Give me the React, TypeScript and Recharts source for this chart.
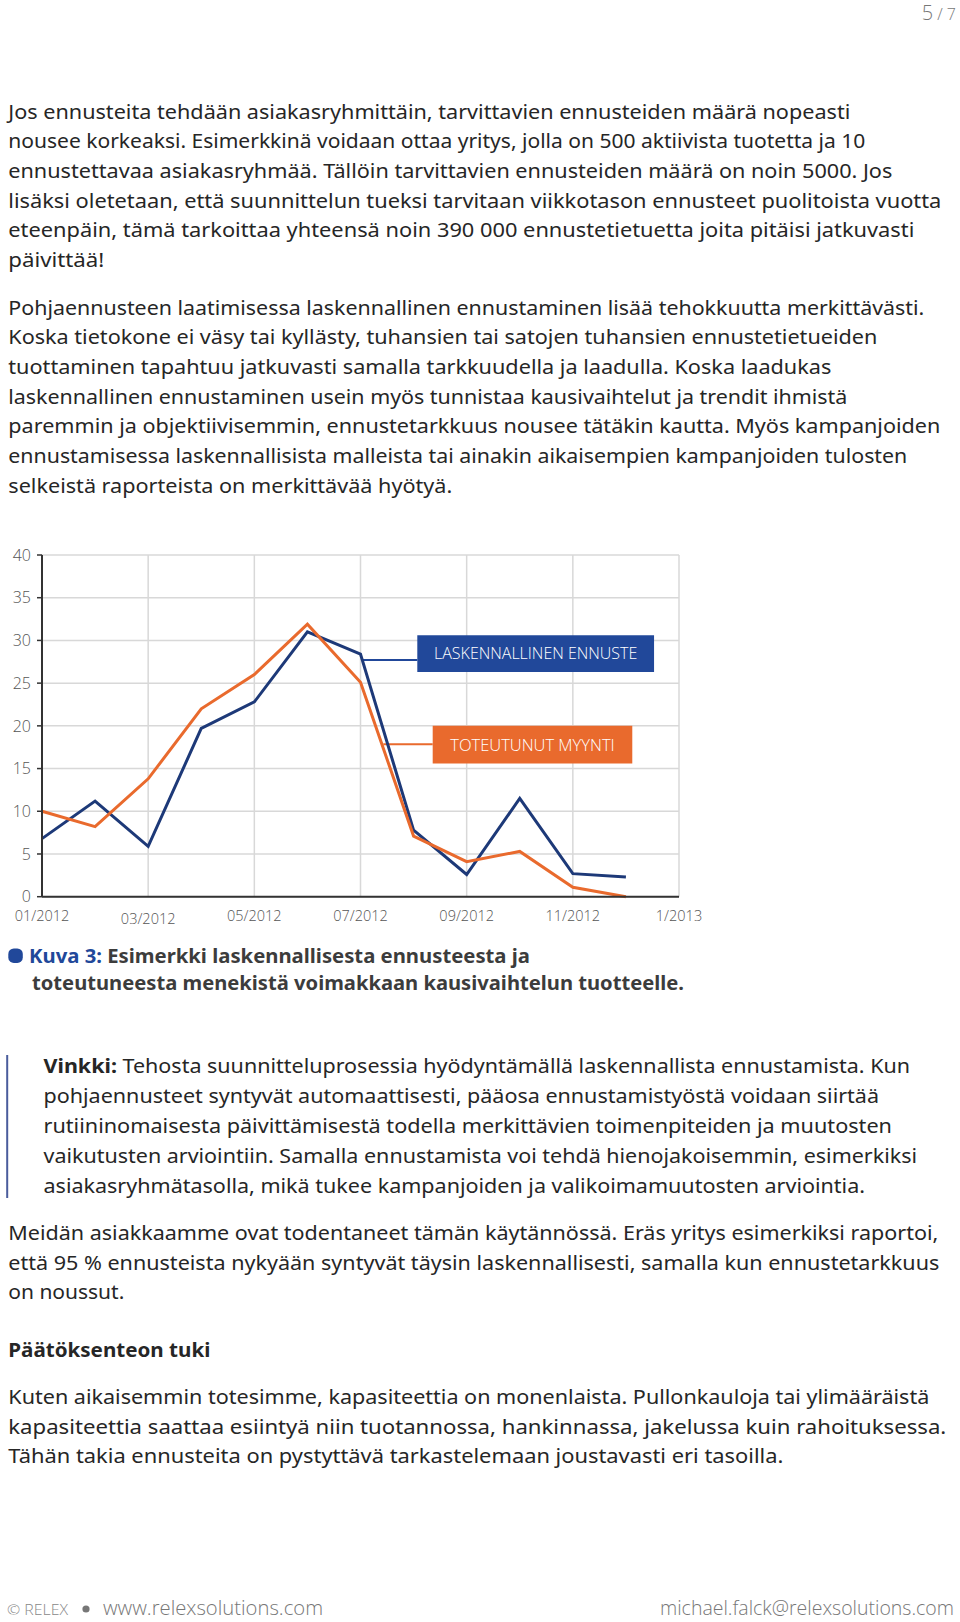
import React from 'react';
import { LineChart, Line, XAxis, YAxis, CartesianGrid, ReferenceArea, ReferenceLine, Label } from 'recharts';

// ---- chart data ----
const months = ['01/2012', '02/2012', '03/2012', '04/2012', '05/2012', '06/2012', '07/2012', '08/2012', '09/2012', '10/2012', '11/2012', '12/2012'];
const forecast = [6.8, 11.2, 5.9, 19.7, 22.8, 31.0, 28.4, 7.8, 2.6, 11.5, 2.7, 2.3];
const actual = [10.0, 8.2, 13.8, 22.0, 26.0, 31.9, 25.1, 7.1, 4.1, 5.3, 1.1, 0];
const xTickValues = [0, 2, 4, 6, 8, 10, 12];
const xTickLabels = ['01/2012', '03/2012', '05/2012', '07/2012', '09/2012', '11/2012', '1/2013'];
const yTicks = [0, 5, 10, 15, 20, 25, 30, 35, 40];
const seriesNames = ['LASKENNALLINEN ENNUSTE', 'TOTEUTUNUT MYYNTI'];

const data = months.map((m, i) => ({ idx: i, month: m, forecast: forecast[i], actual: actual[i] }));

const BLUE_LINE = '#1d3978';
const BLUE_BOX = '#21489a';
const ORANGE = '#e96a2d';
const BODY = '"Noto Sans", "Open Sans", sans-serif';
const LIGHT = '"Open Sans", "Noto Sans", sans-serif';

const XTick = (props: any) => {
  const { x, y, payload } = props;
  const i = xTickValues.indexOf(payload.value);
  const extra = i === 1 ? 3.5 : 0;
  return (
    <text x={x} y={y + 24 + extra} textAnchor="middle" fill="#555" fontSize={14.5} fontFamily={LIGHT} fontWeight={300}>
      {xTickLabels[i]}
    </text>
  );
};

type L = { t: string; x: number; y: number; w: number };

const p1: L[] = [
  { t: 'Jos ennusteita tehdään asiakasryhmittäin, tarvittavien ennusteiden määrä nopeasti', x: 8.3, y: 118.5, w: 842 },
  { t: 'nousee korkeaksi. Esimerkkinä voidaan ottaa yritys, jolla on 500 aktiivista tuotetta ja 10', x: 8.3, y: 148.2, w: 857 },
  { t: 'ennustettavaa asiakasryhmää. Tällöin tarvittavien ennusteiden määrä on noin 5000. Jos', x: 8.3, y: 177.9, w: 884 },
  { t: 'lisäksi oletetaan, että suunnittelun tueksi tarvitaan viikkotason ennusteet puolitoista vuotta', x: 8.3, y: 207.6, w: 933 },
  { t: 'eteenpäin, tämä tarkoittaa yhteensä noin 390 000 ennustetietuetta joita pitäisi jatkuvasti', x: 8.3, y: 237.3, w: 906 },
  { t: 'päivittää!', x: 8.3, y: 267, w: 96 },
];
const p2: L[] = [
  { t: 'Pohjaennusteen laatimisessa laskennallinen ennustaminen lisää tehokkuutta merkittävästi.', x: 8.3, y: 314.5, w: 916 },
  { t: 'Koska tietokone ei väsy tai kyllästy, tuhansien tai satojen tuhansien ennustetietueiden', x: 8.3, y: 344.2, w: 869 },
  { t: 'tuottaminen tapahtuu jatkuvasti samalla tarkkuudella ja laadulla. Koska laadukas', x: 8.3, y: 373.8, w: 823 },
  { t: 'laskennallinen ennustaminen usein myös tunnistaa kausivaihtelut ja trendit ihmistä', x: 8.3, y: 403.5, w: 839 },
  { t: 'paremmin ja objektiivisemmin, ennustetarkkuus nousee tätäkin kautta. Myös kampanjoiden', x: 8.3, y: 433.2, w: 932 },
  { t: 'ennustamisessa laskennallisista malleista tai ainakin aikaisempien kampanjoiden tulosten', x: 8.3, y: 462.8, w: 899 },
  { t: 'selkeistä raporteista on merkittävää hyötyä.', x: 8.3, y: 492.5, w: 444 },
];
const vinkki: L[] = [
  { t: 'pohjaennusteet syntyvät automaattisesti, pääosa ennustamistyöstä voidaan siirtää', x: 43.5, y: 1103, w: 835.5 },
  { t: 'rutiininomaisesta päivittämisestä todella merkittävien toimenpiteiden ja muutosten', x: 43.5, y: 1133, w: 848.5 },
  { t: 'vaikutusten arviointiin. Samalla ennustamista voi tehdä hienojakoisemmin, esimerkiksi', x: 43.5, y: 1163, w: 873.5 },
  { t: 'asiakasryhmätasolla, mikä tukee kampanjoiden ja valikoimamuutosten arviointia.', x: 43.5, y: 1193, w: 821.5 },
];
const p3: L[] = [
  { t: 'Meidän asiakkaamme ovat todentaneet tämän käytännössä. Eräs yritys esimerkiksi raportoi,', x: 8.3, y: 1240, w: 930 },
  { t: 'että 95 % ennusteista nykyään syntyvät täysin laskennallisesti, samalla kun ennustetarkkuus', x: 8.3, y: 1269.5, w: 931 },
  { t: 'on noussut.', x: 8.3, y: 1299, w: 116 },
];
const p4: L[] = [
  { t: 'Kuten aikaisemmin totesimme, kapasiteettia on monenlaista. Pullonkauloja tai ylimääräistä', x: 8.3, y: 1404, w: 921 },
  { t: 'kapasiteettia saattaa esiintyä niin tuotannossa, hankinnassa, jakelussa kuin rahoituksessa.', x: 8.3, y: 1433.5, w: 938 },
  { t: 'Tähän takia ennusteita on pystyttävä tarkastelemaan joustavasti eri tasoilla.', x: 8.3, y: 1463, w: 775 },
];

const Lines = ({ lines }: { lines: L[] }) => (
  <>
    {lines.map((l, i) => (
      <text key={i} x={l.x} y={l.y} textLength={l.w} lengthAdjust="spacingAndGlyphs" fontSize={19.5} fontFamily={BODY} fill="#262626">
        {l.t}
      </text>
    ))}
  </>
);

export default function App() {
  return (
    <div style={{ position: 'absolute', left: 0, top: 0, width: 960, height: 1622, background: '#fff', overflow: 'hidden' }}>
      <svg width={960} height={1622} style={{ position: 'absolute', left: 0, top: 0 }}>
        <text x={956} y={20} textAnchor="end" fontFamily={LIGHT} fontWeight={300} fill="#777">
          <tspan fontSize={20}>5</tspan>
          <tspan fontSize={16}> / 7</tspan>
        </text>
        <Lines lines={p1} />
        <Lines lines={p2} />

        <rect x={8.3} y={948.5} width={14.5} height={14.4} rx={5.5} fill={BLUE_BOX} />
        <text x={29} y={962.5} textLength={501} lengthAdjust="spacingAndGlyphs" fontSize={19} fontWeight={700} fontFamily={BODY} fill="#3c3c3c">
          <tspan fill={BLUE_BOX}>Kuva 3:</tspan> Esimerkki laskennallisesta ennusteesta ja
        </text>
        <text x={32} y={990} textLength={652} lengthAdjust="spacingAndGlyphs" fontSize={19} fontWeight={700} fontFamily={BODY} fill="#3c3c3c">
          toteutuneesta menekistä voimakkaan kausivaihtelun tuotteelle.
        </text>

        <rect x={6.2} y={1055} width={2} height={143} fill="#4a5c9c" />
        <text x={43.5} y={1073} textLength={866.5} lengthAdjust="spacingAndGlyphs" fontSize={19.5} fontFamily={BODY} fill="#262626">
          <tspan fontWeight={700}>Vinkki:</tspan> Tehosta suunnitteluprosessia hyödyntämällä laskennallista ennustamista. Kun
        </text>
        <Lines lines={vinkki} />
        <Lines lines={p3} />
        <text x={8.3} y={1357} textLength={202} lengthAdjust="spacingAndGlyphs" fontSize={19.5} fontWeight={700} fontFamily={BODY} fill="#262626">
          Päätöksenteon tuki
        </text>
        <Lines lines={p4} />

        <text x={7} y={1615} textLength={61} lengthAdjust="spacingAndGlyphs" fontSize={15} fontFamily={LIGHT} fontWeight={300} fill="#888">
          © RELEX
        </text>
        <circle cx={86} cy={1609} r={3.6} fill="#777" />
        <text x={103} y={1615} textLength={220} lengthAdjust="spacingAndGlyphs" fontSize={20} fontFamily={LIGHT} fontWeight={300} fill="#777">
          www.relexsolutions.com
        </text>
        <text x={660} y={1615} textLength={294} lengthAdjust="spacingAndGlyphs" fontSize={19.5} fontFamily={LIGHT} fontWeight={300} fill="#777">
          michael.falck@relexsolutions.com
        </text>
      </svg>

      <div style={{ position: 'absolute', left: 0, top: 540 }}>
        <LineChart width={720} height={400} data={data} margin={{ top: 15, right: 41, bottom: 13.3, left: 0 }}>
          <CartesianGrid stroke="#d8d8d8" strokeWidth={1.5} />
          <XAxis
            dataKey="idx"
            type="number"
            domain={[0, 12]}
            ticks={xTickValues}
            interval={0}
            height={30}
            tickSize={0}
            tickMargin={0}
            tickLine={false}
            axisLine={{ stroke: '#333', strokeWidth: 2 }}
            tick={<XTick />}
          />
          <YAxis
            type="number"
            domain={[0, 40]}
            ticks={yTicks}
            interval={0}
            width={42}
            tickSize={5}
            tickMargin={6}
            tickLine={{ stroke: '#333', strokeWidth: 1.5 }}
            axisLine={{ stroke: '#333', strokeWidth: 2 }}
            tick={{ fill: '#555', fontSize: 16, fontFamily: LIGHT, fontWeight: 300 }}
          />
          <ReferenceLine segment={[{ x: 6.03, y: 27.7 }, { x: 7.07, y: 27.7 }]} stroke={BLUE_BOX} strokeWidth={2} ifOverflow="visible" />
          <ReferenceLine segment={[{ x: 6.43, y: 17.85 }, { x: 7.36, y: 17.85 }]} stroke={ORANGE} strokeWidth={2} ifOverflow="visible" />
          <ReferenceArea x1={7.07} x2={11.53} y1={26.3} y2={30.6} fill={BLUE_BOX} fillOpacity={1} stroke="none" ifOverflow="visible">
            <Label value={seriesNames[0]} position="center" fill="#fff" fontSize={16} fontFamily={LIGHT} fontWeight={300} />
          </ReferenceArea>
          <ReferenceArea x1={7.36} x2={11.12} y1={15.6} y2={20.0} fill={ORANGE} fillOpacity={1} stroke="none" ifOverflow="visible">
            <Label value={seriesNames[1]} position="center" fill="#fff" fontSize={16.5} fontFamily={LIGHT} fontWeight={300} />
          </ReferenceArea>
          <Line type="linear" dataKey="forecast" name={seriesNames[0]} stroke={BLUE_LINE} strokeWidth={3} dot={false} activeDot={false} isAnimationActive={false} />
          <Line type="linear" dataKey="actual" name={seriesNames[1]} stroke={ORANGE} strokeWidth={3} dot={false} activeDot={false} isAnimationActive={false} />
        </LineChart>
      </div>
    </div>
  );
}
